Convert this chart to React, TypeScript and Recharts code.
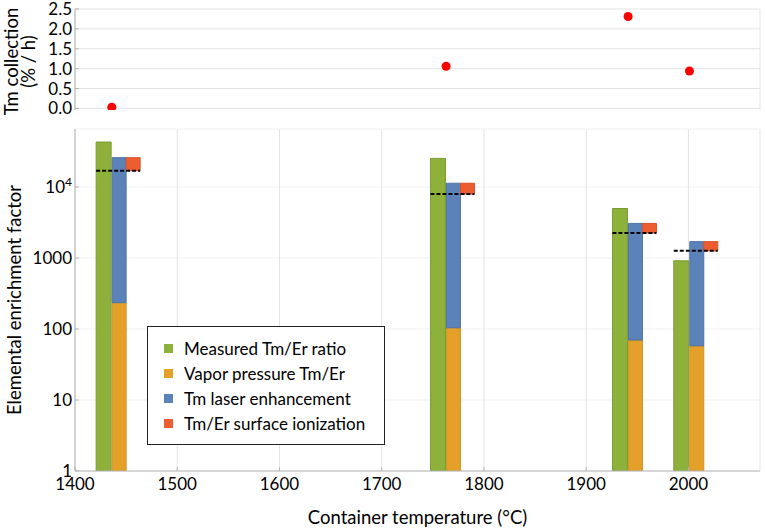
import React from 'react';
import { ScatterChart, Scatter, ComposedChart, Bar, XAxis, YAxis, CartesianGrid, Legend, Rectangle } from 'recharts';

// container temperatures (°C) of the four runs
const temperatures = [1436, 1763, 1941, 2001];
// Tm collection (% / h)
const collectionRate = [0.03, 1.06, 2.31, 0.94];
// enrichment factors (log axis)
const measuredRatio = [43000, 25300, 4980, 914];
const vaporPressureRatio = [235, 104, 70, 58];
const laserEnhancementTop = [25900, 11300, 3070, 1700];
const surfaceIonizationLevel = [17000, 7950, 2250, 1260];

const seriesNames = ['Measured Tm/Er ratio', 'Vapor pressure Tm/Er', 'Tm laser enhancement', 'Tm/Er surface ionization'];
const seriesColors = ['#8db13b', '#e5a029', '#5b83ba', '#ee5d30'];
const seriesStrokes = ['#7b9c31', '#d39226', '#4e73a6', '#d8522a'];

const xTicks = [1400, 1500, 1600, 1700, 1800, 1900, 2000];
const rateTicks = [0, 0.5, 1, 1.5, 2, 2.5];
const rateTickLabels = ['0.0', '0.5', '1.0', '1.5', '2.0', '2.5'];
const factorTicks = [1, 10, 100, 1000, 10000];
const factorTickLabels = ['1', '10', '100', '1000', '10^4'];

// frame minor ticks (Mathematica style)
const xMinorTicks = xTicks.flatMap((t) => [t + 20, t + 40, t + 60, t + 80]);
const rateMinorTicks = rateTicks.slice(0, -1).flatMap((v) => [v + 0.1, v + 0.2, v + 0.3, v + 0.4]);
const factorMinorTicks = factorTicks.flatMap((d) => [2, 3, 4, 5, 6, 7, 8, 9].map((k) => k * d)).filter((v) => v < 65600);

const collectionData = temperatures.map((t, i) => ({ t, rate: collectionRate[i] }));
const factorData = temperatures.map((t, i) => ({
    t,
    measured: measuredRatio[i],
    vapor: vaporPressureRatio[i],
    laser: laserEnhancementTop[i] - vaporPressureRatio[i],
    surface: [surfaceIonizationLevel[i], laserEnhancementTop[i]],
}));

const FRAME = '#b4b4b4';
const GRID = '#e4e4e4';
const SHIFT = 7; // bar group sits a little right of the run temperature
const FONT = 17;
const TITLE = 18.5;
const X_DOMAIN = [1400, 2070];
const RATE_DOMAIN = [-0.04, 2.5];
const FACTOR_DOMAIN = [1, 65600];

const shiftedBar = (fill: string, stroke: string) => (props: any) => (
    <Rectangle x={props.x + SHIFT} y={props.y} width={props.width} height={props.height} fill={fill} stroke={stroke} strokeWidth={1} />
);

const SurfaceBar = (props: any) => {
    const { x, y, width, height } = props;
    if (!isFinite(y) || !isFinite(height)) return null;
    const left = x + SHIFT - 1;
    const base = y + height;
    return (
        <g>
            <Rectangle x={left} y={y} width={width} height={height} fill={seriesColors[3]} stroke={seriesStrokes[3]} strokeWidth={1} />
            <line x1={left - 30} x2={left + width} y1={base} y2={base} stroke="#000" strokeWidth={2} strokeDasharray="4 2" />
        </g>
    );
};

const RateTick = ({ x, y, payload }: any) => (
    <text x={x} y={y} dy="0.355em" textAnchor="end" fontSize={FONT} fill="#000">
        {rateTickLabels[rateTicks.indexOf(payload.value)]}
    </text>
);

const FactorTick = ({ x, y, payload }: any) => {
    const [base, exp] = factorTickLabels[factorTicks.indexOf(payload.value)].split('^');
    return (
        <text x={x} y={y} dy="0.355em" textAnchor="end" fontSize={FONT} fill="#000">
            {base}
            {exp && <tspan dy="-0.55em" fontSize={12}>{exp}</tspan>}
        </text>
    );
};

const RateLabel = ({ viewBox }: any) => {
    const cy = viewBox.y + viewBox.height / 2 + 2;
    return (
        <g>
            <text transform={`translate(11, ${cy}) rotate(-90)`} textAnchor="middle" dominantBaseline="central" fontSize={TITLE} fill="#000">Tm collection</text>
            <text transform={`translate(28, ${cy}) rotate(-90)`} textAnchor="middle" dominantBaseline="central" fontSize={TITLE} fill="#000">(% / h)</text>
        </g>
    );
};

const FactorLabel = ({ viewBox }: any) => {
    const cy = viewBox.y + viewBox.height / 2;
    return (
        <text transform={`translate(14, ${cy}) rotate(-90)`} textAnchor="middle" dominantBaseline="central" fontSize={TITLE} fill="#000">
            Elemental enrichment factor
        </text>
    );
};

const LegendBox = ({ payload }: any) => (
    <div style={{ border: '1px solid #222', background: '#fff', width: 238, height: 119, boxSizing: 'border-box', padding: '9px 0 0 16px', fontSize: FONT }}>
        {seriesNames.map((name) => {
            const entry = (payload || []).find((p: any) => p.value === name);
            return (
                <div key={name} style={{ display: 'flex', alignItems: 'center', height: 25 }}>
                    <span style={{ width: 9, height: 9, background: entry ? entry.color : '#ccc', marginRight: 11 }} />
                    {name}
                </div>
            );
        })}
    </div>
);

// tick-only axes (zero size) that draw the frame's inward ticks; rendered before the labelled axes
const frameX = (id: string, orientation: 'top' | 'bottom', ticks: number[], size: number, withLine: boolean) => (
    <XAxis key={id} xAxisId={id} orientation={orientation} type="number" domain={X_DOMAIN} allowDataOverflow ticks={ticks} interval={0}
        height={0} tick={false} tickSize={-size} tickLine={{ stroke: FRAME }} axisLine={withLine ? { stroke: FRAME } : false} />
);

const frameY = (id: string, orientation: 'left' | 'right', ticks: number[], size: number, domain: number[], log: boolean) => (
    <YAxis key={id} yAxisId={id} orientation={orientation} type="number" scale={log ? 'log' : 'auto'} domain={domain} allowDataOverflow ticks={ticks} interval={0}
        width={0} tick={false} tickSize={-size} tickLine={{ stroke: FRAME }} axisLine={orientation === 'right' ? { stroke: FRAME } : false} />
);

export default function App() {
    return (
        <div style={{ position: 'absolute', left: 0, top: 0, width: 765, height: 531, background: '#fff', fontFamily: 'Lato' }}>
            <style>{'svg.recharts-surface { overflow: visible; }'}</style>
            <div style={{ position: 'absolute', left: 0, top: 0 }}>
                <ScatterChart width={765} height={114} margin={{ top: 9, right: 5, bottom: 4, left: 0 }}>
                    <CartesianGrid stroke={GRID} horizontalValues={rateTicks} />
                    {frameX('bottomMinor', 'bottom', xMinorTicks, 2, false)}
                    {frameX('topMinor', 'top', xMinorTicks, 2, false)}
                    {frameY('leftMinor', 'left', rateMinorTicks, 2, RATE_DOMAIN, false)}
                    {frameY('rightMinor', 'right', rateMinorTicks, 2, RATE_DOMAIN, false)}
                    <XAxis dataKey="t" type="number" domain={X_DOMAIN} ticks={xTicks} interval={0} allowDataOverflow height={0} tick={false} tickSize={-4} tickLine={{ stroke: FRAME }} axisLine={{ stroke: FRAME }} />
                    {frameX('top', 'top', xTicks, 4, true)}
                    <YAxis dataKey="rate" type="number" domain={RATE_DOMAIN} ticks={rateTicks} interval={0} allowDataOverflow width={75} tick={<RateTick />} tickSize={-4} tickMargin={7} tickLine={{ stroke: FRAME }} axisLine={{ stroke: FRAME }} label={RateLabel} />
                    {frameY('right', 'right', rateTicks, 4, RATE_DOMAIN, false)}
                    <Scatter data={collectionData} fill="#ff0000" isAnimationActive={false} />
                </ScatterChart>
            </div>
            <div style={{ position: 'absolute', left: 0, top: 114 }}>
                <ComposedChart width={765} height={417} data={factorData} barGap={1} margin={{ top: 15, right: 5, bottom: 0, left: 0 }}>
                    <CartesianGrid stroke="#f1f1f1" vertical={false} />
                    <CartesianGrid stroke={GRID} horizontal={false} />
                    {frameX('bottomMinor', 'bottom', xMinorTicks, 2, false)}
                    {frameX('topMinor', 'top', xMinorTicks, 2, false)}
                    {frameY('leftMinor', 'left', factorMinorTicks, 2, FACTOR_DOMAIN, true)}
                    {frameY('rightMinor', 'right', factorMinorTicks, 2, FACTOR_DOMAIN, true)}
                    <XAxis dataKey="t" type="number" domain={X_DOMAIN} ticks={xTicks} interval={0} allowDataOverflow height={60} tickSize={-4} tickMargin={11}
                        tick={{ fill: '#000', fontSize: FONT }} tickLine={{ stroke: FRAME }} axisLine={{ stroke: FRAME }}
                        label={{ value: 'Container temperature (°C)', position: 'insideBottom', offset: 7, fill: '#000', fontSize: TITLE }} />
                    {frameX('top', 'top', xTicks, 4, true)}
                    <YAxis scale="log" type="number" domain={FACTOR_DOMAIN} ticks={factorTicks} interval={0} allowDataOverflow width={75} tick={<FactorTick />} tickSize={-4} tickMargin={7} tickLine={{ stroke: FRAME }} axisLine={{ stroke: FRAME }} label={FactorLabel} />
                    {frameY('right', 'right', factorTicks, 4, FACTOR_DOMAIN, true)}
                    <Legend layout="vertical" align="center" verticalAlign="middle" content={<LegendBox />} wrapperStyle={{ left: 147, top: 212, width: 238 }} />
                    <Bar dataKey="measured" name={seriesNames[0]} stackId="measured" fill={seriesColors[0]} barSize={15} shape={shiftedBar(seriesColors[0], seriesStrokes[0])} isAnimationActive={false} />
                    <Bar dataKey="vapor" name={seriesNames[1]} stackId="model" fill={seriesColors[1]} barSize={14} shape={shiftedBar(seriesColors[1], seriesStrokes[1])} isAnimationActive={false} />
                    <Bar dataKey="laser" name={seriesNames[2]} stackId="model" fill={seriesColors[2]} barSize={14} shape={shiftedBar(seriesColors[2], seriesStrokes[2])} isAnimationActive={false} />
                    <Bar dataKey="surface" name={seriesNames[3]} fill={seriesColors[3]} barSize={14} shape={SurfaceBar} isAnimationActive={false} />
                </ComposedChart>
            </div>
        </div>
    );
}
